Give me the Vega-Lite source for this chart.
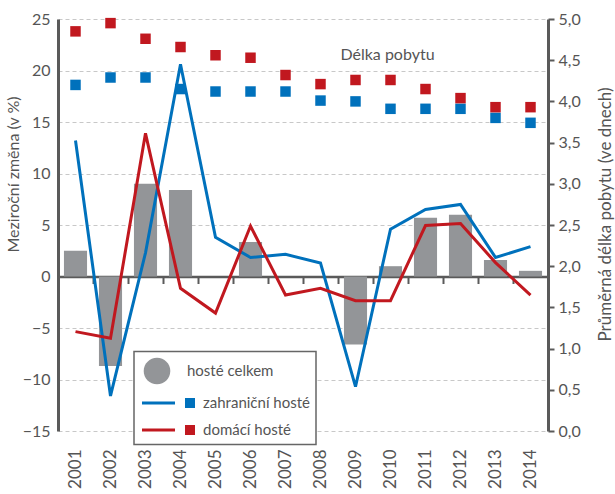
{
  "$schema": "https://vega.github.io/schema/vega-lite/v6.json",
  "width": 490,
  "height": 412,
  "autosize": {"type": "none"},
  "padding": {"left": 58, "top": 19, "right": 67, "bottom": 63},
  "background": "white",
  "config": {
    "font": "Lato",
    "view": {"stroke": null},
    "axis": {"labelFont": "Lato", "titleFont": "Lato", "labelColor": "#555555", "titleColor": "#555555", "labelFontSize": 16, "titleFontSize": 16, "titleFontWeight": "normal"}
  },
  "datasets": {
    "d": [
      {"year": "2001", "series": "hosté celkem", "change": 2.5},
      {"year": "2002", "series": "hosté celkem", "change": -8.7},
      {"year": "2003", "series": "hosté celkem", "change": 9.0},
      {"year": "2004", "series": "hosté celkem", "change": 8.4},
      {"year": "2005", "series": "hosté celkem", "change": 0.0},
      {"year": "2006", "series": "hosté celkem", "change": 3.35},
      {"year": "2007", "series": "hosté celkem", "change": 0.0},
      {"year": "2008", "series": "hosté celkem", "change": 0.0},
      {"year": "2009", "series": "hosté celkem", "change": -6.6},
      {"year": "2010", "series": "hosté celkem", "change": 1.0},
      {"year": "2011", "series": "hosté celkem", "change": 5.7},
      {"year": "2012", "series": "hosté celkem", "change": 6.0},
      {"year": "2013", "series": "hosté celkem", "change": 1.6},
      {"year": "2014", "series": "hosté celkem", "change": 0.55},
      {"year": "2001", "series": "zahraniční hosté", "change": 13.2, "stay": 4.2},
      {"year": "2002", "series": "zahraniční hosté", "change": -11.6, "stay": 4.29},
      {"year": "2003", "series": "zahraniční hosté", "change": 2.3, "stay": 4.29},
      {"year": "2004", "series": "zahraniční hosté", "change": 20.6, "stay": 4.15},
      {"year": "2005", "series": "zahraniční hosté", "change": 3.8, "stay": 4.12},
      {"year": "2006", "series": "zahraniční hosté", "change": 1.85, "stay": 4.12},
      {"year": "2007", "series": "zahraniční hosté", "change": 2.15, "stay": 4.12},
      {"year": "2008", "series": "zahraniční hosté", "change": 1.3, "stay": 4.01},
      {"year": "2009", "series": "zahraniční hosté", "change": -10.7, "stay": 4.0},
      {"year": "2010", "series": "zahraniční hosté", "change": 4.6, "stay": 3.91},
      {"year": "2011", "series": "zahraniční hosté", "change": 6.5, "stay": 3.91},
      {"year": "2012", "series": "zahraniční hosté", "change": 7.0, "stay": 3.91},
      {"year": "2013", "series": "zahraniční hosté", "change": 1.85, "stay": 3.8},
      {"year": "2014", "series": "zahraniční hosté", "change": 2.9, "stay": 3.74},
      {"year": "2001", "series": "domácí hosté", "change": -5.35, "stay": 4.85},
      {"year": "2002", "series": "domácí hosté", "change": -6.0, "stay": 4.95},
      {"year": "2003", "series": "domácí hosté", "change": 13.9, "stay": 4.76},
      {"year": "2004", "series": "domácí hosté", "change": -1.15, "stay": 4.66},
      {"year": "2005", "series": "domácí hosté", "change": -3.55, "stay": 4.56},
      {"year": "2006", "series": "domácí hosté", "change": 4.9, "stay": 4.53},
      {"year": "2007", "series": "domácí hosté", "change": -1.8, "stay": 4.32},
      {"year": "2008", "series": "domácí hosté", "change": -1.15, "stay": 4.21},
      {"year": "2009", "series": "domácí hosté", "change": -2.35, "stay": 4.26},
      {"year": "2010", "series": "domácí hosté", "change": -2.35, "stay": 4.26},
      {"year": "2011", "series": "domácí hosté", "change": 4.95, "stay": 4.15},
      {"year": "2012", "series": "domácí hosté", "change": 5.15, "stay": 4.04},
      {"year": "2013", "series": "domácí hosté", "change": 1.35, "stay": 3.93},
      {"year": "2014", "series": "domácí hosté", "change": -1.8, "stay": 3.93}
    ]
  },
  "layer": [
    {
      "layer": [
        {
          "data": {"name": "d"},
          "transform": [{"filter": "datum.series === 'hosté celkem'"}],
          "mark": {"type": "bar", "width": {"band": 0.66}},
          "encoding": {
            "x": {
              "field": "year", "type": "ordinal",
              "scale": {"type": "band", "paddingInner": 0, "paddingOuter": 0},
              "axis": {"orient": "bottom", "title": null, "domain": false, "ticks": false, "grid": false, "labelAngle": -90, "labelPadding": 18, "labelFontSize": 17}
            },
            "y": {
              "field": "change", "type": "quantitative",
              "scale": {"domain": [-15, 25], "nice": false, "zero": false},
              "axis": {
                "title": "Meziroční změna (v %)",
                "titleX": -45, "titleY": 155, "titleAngle": 270, "titleBaseline": "middle", "titleAlign": "center",
                "values": [-15, -10, -5, 0, 5, 10, 15, 20, 25],
                "labelExpr": "replace(format(datum.value, 'd'), '-', '– ')",
                "ticks": false, "labelPadding": 8,
                "domainColor": "#5a5a5a", "domainWidth": 3,
                "grid": true, "gridDash": [4, 3], "gridColor": "#c8c8c8", "gridWidth": 1
              }
            },
            "color": {
              "field": "series", "type": "nominal",
              "scale": {"domain": ["hosté celkem", "zahraniční hosté", "domácí hosté"], "range": ["#939598", "#0071BC", "#C1181F"]},
              "legend": {
                "orient": "none", "legendX": 76, "legendY": 332.5,
                "title": null,
                "values": ["hosté celkem", "zahraniční hosté", "domácí hosté"],
                "padding": 6,
                "strokeColor": "#666666", "fillColor": "white",
                "labelFont": "Lato", "labelFontSize": 15, "labelColor": "#555555",
                "labelOffset": 36,
                "symbolSize": 729, "symbolStrokeWidth": 0,
                "rowPadding": 5,
                "encode": {
                  "legend": {"update": {"strokeWidth": {"value": 1.5}}},
                  "labels": {"update": {"dx": {"signal": "datum.value === 'hosté celkem' ? -16 : 0"}}},
                  "symbols": {"update": {
                    "shape": {"signal": "datum.value === 'hosté celkem' ? 'M1.244,0C1.244,0.544 0.803,0.985 0.259,0.985C-0.285,0.985 -0.726,0.544 -0.726,0C-0.726,-0.544 -0.285,-0.985 0.259,-0.985C0.803,-0.985 1.244,-0.544 1.244,0Z' : 'M-0.852,-0.104H1.593V0.104H-0.852Z M2.333,-0.37H3.074V0.37H2.333Z'"},
                    "fill": {"scale": "color", "field": "value"},
                    "opacity": {"value": 1}
                  }}
                }
              }
            }
          }
        },
        {
          "data": {"name": "d"},
          "transform": [{"filter": "datum.series === 'zahraniční hosté'"}],
          "mark": {"type": "line", "strokeWidth": 3},
          "encoding": {
            "x": {"field": "year", "type": "ordinal"},
            "y": {"field": "change", "type": "quantitative"},
            "color": {"field": "series", "type": "nominal", "legend": null}
          }
        },
        {
          "data": {"name": "d"},
          "transform": [{"filter": "datum.series === 'domácí hosté'"}],
          "mark": {"type": "line", "strokeWidth": 3},
          "encoding": {
            "x": {"field": "year", "type": "ordinal"},
            "y": {"field": "change", "type": "quantitative"},
            "color": {"field": "series", "type": "nominal", "legend": null}
          }
        },
        {
          "data": {"values": [{"year": "2010", "label": "Délka pobytu", "v": 21.5}]},
          "mark": {"type": "text", "font": "Lato", "fontSize": 16, "color": "#555555", "align": "center", "baseline": "middle", "dx": -3},
          "encoding": {
            "x": {"field": "year", "type": "ordinal"},
            "y": {"field": "v", "type": "quantitative"},
            "text": {"field": "label"}
          }
        }
      ]
    },
    {
      "layer": [
        {
          "data": {"name": "d"},
          "transform": [{"filter": "isValid(datum.stay)"}],
          "mark": {"type": "square", "size": 110, "opacity": 1, "filled": true},
          "encoding": {
            "x": {
              "field": "year", "type": "ordinal",
              "axis": {"orient": "bottom", "title": null, "labels": false, "offset": -154.5, "domain": true, "domainColor": "#5a5a5a", "domainWidth": 2.5, "ticks": true, "tickColor": "#5a5a5a", "tickWidth": 2, "tickSize": 7, "tickBand": "extent", "grid": false}
            },
            "y": {
              "field": "stay", "type": "quantitative",
              "scale": {"domain": [0, 5], "nice": false},
              "axis": {
                "orient": "right",
                "title": "Průměrná délka pobytu (ve dnech)",
                "titleAngle": 270, "titleX": 57, "titleY": 195, "titleBaseline": "middle", "titleAlign": "center", "titleFontSize": 17,
                "values": [0, 0.5, 1, 1.5, 2, 2.5, 3, 3.5, 4, 4.5, 5],
                "labelExpr": "replace(format(datum.value, '.1f'), '.', ',')",
                "ticks": true, "tickSize": 6, "tickWidth": 2, "tickColor": "#5a5a5a",
                "labelPadding": 4,
                "domainColor": "#5a5a5a", "domainWidth": 3,
                "grid": false
              }
            },
            "color": {"field": "series", "type": "nominal", "legend": null}
          }
        }
      ]
    }
  ],
  "resolve": {"scale": {"y": "independent"}, "axis": {"x": "independent"}}
}
